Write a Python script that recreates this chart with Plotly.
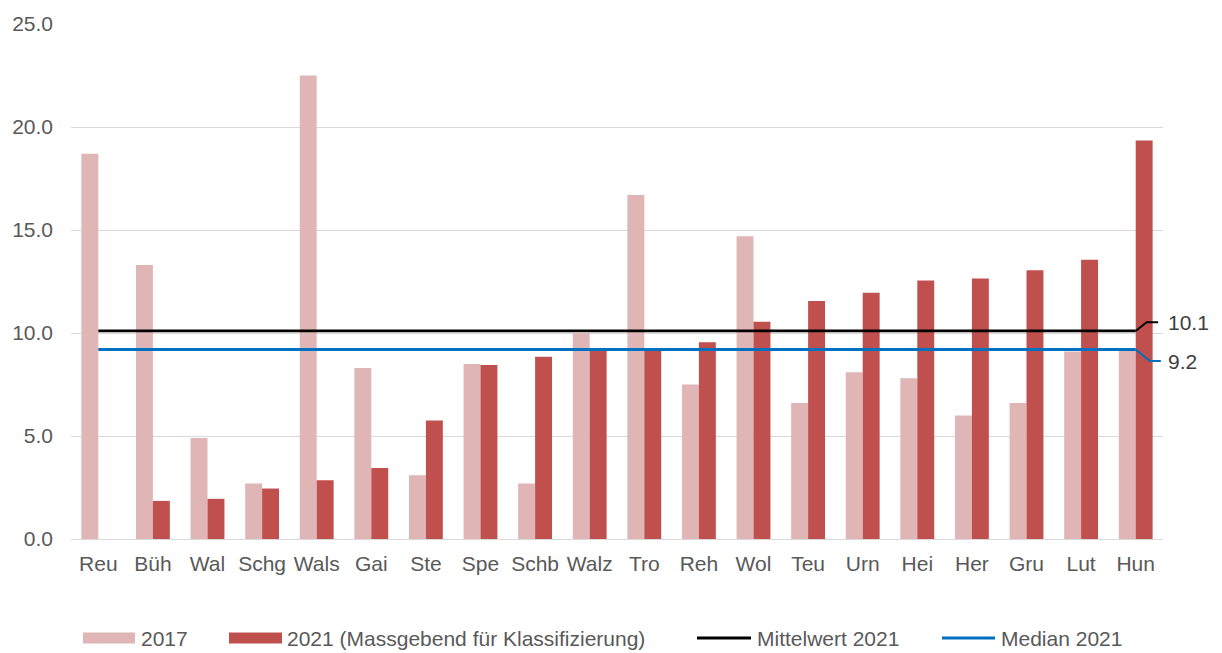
import plotly.graph_objects as go

# Standorte (Abkürzungen)
categories = ["Reu", "Büh", "Wal", "Schg", "Wals", "Gai", "Ste", "Spe", "Schb", "Walz",
              "Tro", "Reh", "Wol", "Teu", "Urn", "Hei", "Her", "Gru", "Lut", "Hun"]

# Werte 2017
values_2017 = [18.7, 13.3, 4.9, 2.7, 22.5, 8.3, 3.1, 8.5, 2.7, 10.0,
               16.7, 7.5, 14.7, 6.6, 8.1, 7.8, 6.0, 6.6, 9.1, 9.2]

# Werte 2021 (massgebend für Klassifizierung); Reu ohne Wert
values_2021 = [None, 1.85, 1.95, 2.45, 2.85, 3.45, 5.75, 8.45, 8.85, 9.2,
               9.2, 9.55, 10.55, 11.55, 11.95, 12.55, 12.65, 13.05, 13.55, 19.35]

mean_2021 = 10.1
median_2021 = 9.2

y_ticks = [0, 5, 10, 15, 20, 25]

name_2017 = "2017"
name_2021 = "2021 (Massgebend für Klassifizierung)"
name_mean = "Mittelwert 2021"
name_median = "Median 2021"

C_LIGHT = "#E0B5B5"
C_DARK = "#C0504D"
C_MEAN = "#000000"
C_MEDIAN = "#0070C0"
C_TEXT = "#595959"
FONT = "Liberation Sans, Arial, sans-serif"
FS = 21

W, H = 1222, 653
M_L, M_R, M_T, M_B = 71, 59, 19, 114
PW, PH = W - M_L - M_R, H - M_T - M_B

fig = go.Figure()
fig.add_trace(go.Bar(x=categories, y=values_2017, name=name_2017,
                     marker=dict(color=C_LIGHT, line=dict(width=0))))
fig.add_trace(go.Bar(x=categories, y=values_2021, name=name_2021,
                     marker=dict(color=C_DARK, line=dict(width=0))))
fig.add_trace(go.Scatter(x=categories, y=[mean_2021] * len(categories), name=name_mean,
                         mode="lines", line=dict(color=C_MEAN, width=2.8)))
fig.add_trace(go.Scatter(x=categories, y=[median_2021] * len(categories), name=name_median,
                         mode="lines", line=dict(color=C_MEDIAN, width=2.8)))

# Leader lines and value labels for mean and median at the right end
last = len(categories) - 1
shapes = []
annotations = []
for val, label_y, color, x_bend, x_end in [
    (mean_2021, mean_2021 + 0.42, C_MEAN, last + 0.20, last + 0.41),
    (median_2021, median_2021 - 0.56, C_MEDIAN, last + 0.26, last + 0.46),
]:
    shapes.append(dict(type="path", xref="x", yref="y",
                       path=f"M {last},{val} L {x_bend},{label_y} L {x_end},{label_y}",
                       line=dict(color=color, width=2)))
    annotations.append(dict(x=last + 0.5, y=label_y, xref="x", yref="y",
                            text=f"{val:.1f}", showarrow=False, xanchor="left",
                            xshift=3, font=dict(family=FONT, size=FS, color="#404040")))


def px_x(p):
    return (p - M_L) / PW


def px_y(p):
    return (H - M_B - p) / PH


# Legend row drawn below the plot
legend_y = 639
legend_items = [
    (name_2017, "bar", C_LIGHT, 83, 135, 139),
    (name_2021, "bar", C_DARK, 229, 282, 285),
    (name_mean, "line", C_MEAN, 697, 751, 755),
    (name_median, "line", C_MEDIAN, 942, 995, 999),
]
for text, kind, color, x0, x1, tx in legend_items:
    if kind == "bar":
        shapes.append(dict(type="rect", xref="paper", yref="paper",
                           x0=px_x(x0), x1=px_x(x1),
                           y0=px_y(legend_y + 5.5), y1=px_y(legend_y - 5.5),
                           fillcolor=color, line=dict(width=0)))
    else:
        shapes.append(dict(type="line", xref="paper", yref="paper",
                           x0=px_x(x0), x1=px_x(x1),
                           y0=px_y(legend_y), y1=px_y(legend_y),
                           line=dict(color=color, width=3)))
    annotations.append(dict(x=px_x(tx), y=px_y(legend_y), xref="paper", yref="paper",
                            text=text, showarrow=False, xanchor="left", yanchor="middle",
                            font=dict(family=FONT, size=FS, color=C_TEXT)))

fig.update_layout(
    width=W, height=H,
    margin=dict(l=M_L, r=M_R, t=M_T, b=M_B, pad=0),
    paper_bgcolor="white", plot_bgcolor="white",
    barmode="group", bargap=0.38, bargroupgap=0,
    showlegend=False,
    font=dict(family=FONT, size=FS, color=C_TEXT),
    shapes=shapes, annotations=annotations,
    xaxis=dict(type="category", range=[-0.5, len(categories) - 0.5], autorange=False,
               showgrid=False, showline=False, zeroline=False,
               ticks="", tickfont=dict(size=FS, color=C_TEXT), ticklabelstandoff=10),
    yaxis=dict(range=[0, 25], tickvals=y_ticks, tickformat=".1f",
               showgrid=True, gridcolor="#D9D9D9", gridwidth=1.3,
               zeroline=True, zerolinecolor="#D9D9D9", zerolinewidth=1.3,
               showline=False, ticks="", tickfont=dict(size=FS, color=C_TEXT),
               ticklabelstandoff=17),
)

fig.write_html("out.html")
